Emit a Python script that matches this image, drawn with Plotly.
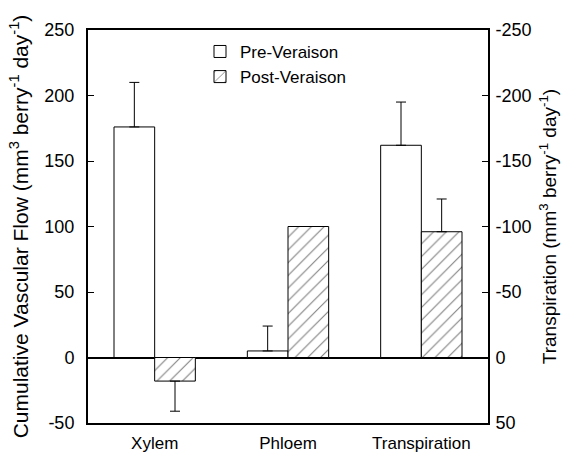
import plotly.graph_objects as go

categories = ["Xylem", "Phloem", "Transpiration"]
pre_values = [176, 5, 162]
pre_err = [34, 19, 33]
post_values = [-18, 100, 96]
post_err = [23, 0, 25]

left_ticks = [-50, 0, 50, 100, 150, 200, 250]
right_ticks = [-250, -200, -150, -100, -50, 0, 50]

def split_err(vals, errs):
    up = [e if v >= 0 else 0 for v, e in zip(vals, errs)]
    dn = [e if v < 0 else 0 for v, e in zip(vals, errs)]
    return up, dn

pre_up, pre_dn = split_err(pre_values, pre_err)
post_up, post_dn = split_err(post_values, post_err)

font = "Liberation Sans, Arial, sans-serif"

fig = go.Figure()
fig.add_trace(go.Bar(
    x=categories, y=pre_values, name="Pre-Veraison",
    marker=dict(color="white", line=dict(color="black", width=1)),
    error_y=dict(type="data", symmetric=False, array=pre_up, arrayminus=pre_dn,
                 color="black", thickness=1, width=5),
))
fig.add_trace(go.Bar(
    x=categories, y=post_values, name="Post-Veraison",
    marker=dict(color="white", line=dict(color="black", width=1),
                pattern=dict(shape="/", fgcolor="black", bgcolor="white", size=9, solidity=0.12)),
    error_y=dict(type="data", symmetric=False, array=post_up, arrayminus=post_dn,
                 color="black", thickness=1, width=5),
))
fig.add_trace(go.Scatter(
    x=[categories[0]], y=[0], yaxis="y2", mode="markers",
    marker=dict(opacity=0), showlegend=False, hoverinfo="skip",
))

fig.update_layout(
    width=574, height=453,
    margin=dict(l=88, r=86, t=30, b=30, autoexpand=False),
    paper_bgcolor="white", plot_bgcolor="white",
    font=dict(family=font, size=17, color="black"),
    barmode="group", bargap=0.39, bargroupgap=0,
    showlegend=True,
    legend=dict(x=0.28, y=0.99, xanchor="left", yanchor="top",
                bgcolor="rgba(0,0,0,0)", font=dict(size=17),
                traceorder="normal"),
    xaxis=dict(showline=True, linecolor="black", linewidth=2, mirror=True, automargin=False,
               ticks="", showgrid=False, tickfont=dict(size=17), ticklabelstandoff=4),
    yaxis=dict(range=[-50, 250], tickvals=left_ticks, ticktext=[str(v) for v in left_ticks],
               tickfont=dict(size=18), ticklabelstandoff=8, automargin=False,
               showline=True, linecolor="black", linewidth=2, mirror=False,
               ticks="inside", ticklen=6, tickcolor="black",
               showgrid=False, zeroline=True, zerolinecolor="black", zerolinewidth=1.5,
               title=dict(text="Cumulative Vascular Flow (mm<sup>3</sup> berry<sup>-1</sup> day<sup>-1</sup>)",
                          font=dict(size=21), standoff=10)),
    yaxis2=dict(range=[50, -250], overlaying="y", side="right",
                tickvals=right_ticks, ticktext=[str(v) for v in right_ticks],
                tickfont=dict(size=18), ticklabelstandoff=2, automargin=False,
                showline=True, linecolor="black", linewidth=2,
                ticks="inside", ticklen=6, tickcolor="black",
                showgrid=False, zeroline=False,
                title=dict(text="Transpiration (mm<sup>3</sup> berry<sup>-1</sup> day<sup>-1</sup>)",
                           font=dict(size=19), standoff=12)),
)

fig.write_html("out.html")
